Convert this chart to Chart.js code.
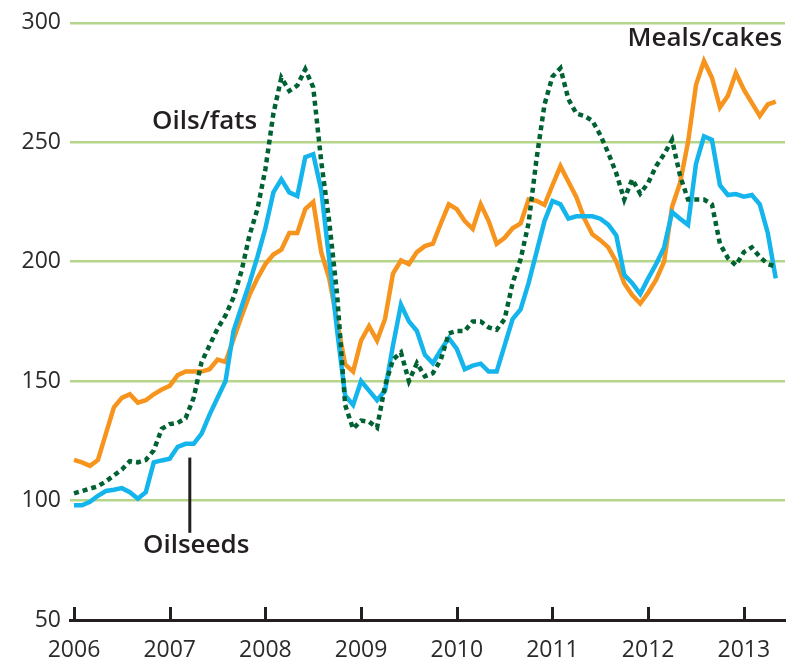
<!DOCTYPE html>
<html>
<head>
<meta charset="utf-8">
<title>Oilseed price indices</title>
<script src="https://cdn.jsdelivr.net/npm/chart.js"></script>
<style>
  html, body { margin: 0; padding: 0; background: #fff; }
  #wrap { width: 789px; height: 659px; }
</style>
</head>
<body>
<div id="wrap"><canvas id="oilChart" width="789" height="659"></canvas></div>
<script>
// monthly index values, Jan 2006 .. May 2013
const startYear = 2006;
const mealsCakes = [
  117, 116, 114.5, 117, 128, 139, 143, 144.5, 141, 142, 144.5, 146.5,
  148, 152.5, 154, 154, 154, 155, 159, 158, 167.5, 177, 186, 193,
  199, 203, 205, 212, 212, 222, 225, 204, 193, 175, 157, 154,
  167, 173, 167, 176, 195, 200.5, 199, 204, 206.5, 207.5, 216, 224,
  222, 217, 213.75, 224, 217, 207.5, 210, 214, 216, 226, 225.5, 223.75,
  232, 240, 233.5, 227, 218, 211.5, 209, 206, 200, 191, 186, 182.5,
  187, 192.5, 200, 223, 233, 250, 274, 284, 277, 264.6, 269.5, 279,
  272, 266.5, 261, 265.8, 267
];
const oilseeds = [
  98, 98, 99.5, 102, 104, 104.5, 105.2, 103.5, 100.8, 103.5, 116, 116.8,
  117.5, 122.5, 123.75, 123.75, 128, 136, 143, 150, 171, 181, 191, 202,
  214, 229, 234.5, 229, 227.5, 243.75, 245, 230, 201, 171, 144, 140,
  150, 146, 142, 146, 165, 182, 175, 171, 161, 157.5, 163, 168,
  163.5, 155, 156.5, 157.3, 154, 154, 165, 176, 180, 191, 204, 217,
  225.4, 224, 218, 219, 219, 219, 218, 215.5, 211, 194.5, 191, 186.5,
  193, 199, 206, 220.8, 218, 215.4, 241, 252.5, 251, 232, 227.9, 228.3,
  227.2, 227.9, 224, 212, 193
];
const oilsFats = [
  103, 104, 105, 106, 108, 110.5, 113, 116.5, 116, 117, 121, 130,
  132, 132.5, 134.5, 143, 158, 165, 172, 177.5, 185, 196, 211, 222,
  238.75, 262, 277, 271.5, 273.75, 280.5, 273, 242, 217, 186, 140, 130,
  133.5, 133, 130.5, 148, 159, 162, 150, 157.5, 152, 153.3, 159, 170,
  171, 171, 175, 175, 172.5, 171.5, 176, 191, 201, 216, 243, 265.8,
  277.5, 281, 268, 262, 261, 259, 253, 245.5, 237, 226, 234.5, 228.5,
  233, 240, 245, 251, 236, 226, 226, 226, 224, 207.5, 201.5, 198.5,
  204, 206, 202, 199, 198
];
const yearTicks = [2006, 2007, 2008, 2009, 2010, 2011, 2012, 2013];
const valueTicks = [50, 100, 150, 200, 250, 300];

// series labels placed in data units
const notes = [
  { text: 'Oils/fats', x: 2006.815, y: 258.75, align: 'left' },
  { text: 'Meals/cakes', x: 2013.4, y: 293.5, align: 'right' },
  { text: 'Oilseeds', x: 2006.72, y: 81.25, align: 'left' }
];
const pointer = { x: 2007.21, from: 118, to: 86.5 };

const ink = '#231f20';

function toPoints(arr) {
  return arr.map((v, i) => ({ x: startYear + i / 12, y: v }));
}

const extras = {
  id: 'extras',
  beforeDatasetsDraw(chart) {
    // upward tick marks on the year axis
    const ctx = chart.ctx, xs = chart.scales.x, area = chart.chartArea;
    ctx.save();
    ctx.strokeStyle = ink;
    ctx.lineWidth = 3;
    yearTicks.forEach(t => {
      const px = Math.round(xs.getPixelForValue(t)) + 0.5;
      ctx.beginPath();
      ctx.moveTo(px, area.bottom);
      ctx.lineTo(px, area.bottom - 13);
      ctx.stroke();
    });
    ctx.restore();
  },
  afterDatasetsDraw(chart) {
    const ctx = chart.ctx, xs = chart.scales.x, ys = chart.scales.y;
    ctx.save();
    ctx.fillStyle = ink;
    ctx.font = '600 26px "Open Sans"';
    ctx.textBaseline = 'middle';
    notes.forEach(n => {
      ctx.textAlign = n.align;
      ctx.fillText(n.text, xs.getPixelForValue(n.x), ys.getPixelForValue(n.y));
    });
    const px = xs.getPixelForValue(pointer.x);
    ctx.strokeStyle = ink;
    ctx.lineWidth = 3;
    ctx.beginPath();
    ctx.moveTo(px, ys.getPixelForValue(pointer.from));
    ctx.lineTo(px, ys.getPixelForValue(pointer.to));
    ctx.stroke();
    ctx.restore();
  }
};

Chart.defaults.font.family = '"Open Sans", sans-serif';

new Chart(document.getElementById('oilChart').getContext('2d'), {
  type: 'line',
  data: {
    datasets: [
      {
        label: 'Oils/fats',
        data: toPoints(oilsFats),
        borderColor: '#006233',
        borderWidth: 4.5,
        borderDash: [5, 4],
        pointRadius: 0,
        tension: 0,
        order: 0
      },
      {
        label: 'Oilseeds',
        data: toPoints(oilseeds),
        borderColor: '#14b4ec',
        borderWidth: 4.5,
        pointRadius: 0,
        tension: 0,
        order: 1
      },
      {
        label: 'Meals/cakes',
        data: toPoints(mealsCakes),
        borderColor: '#f7941d',
        borderWidth: 4.5,
        pointRadius: 0,
        tension: 0,
        order: 2
      }
    ]
  },
  options: {
    responsive: false,
    animation: false,
    layout: { padding: { top: 20, right: 4, left: 0, bottom: 0 } },
    plugins: {
      legend: { display: false },
      tooltip: { enabled: false }
    },
    scales: {
      x: {
        type: 'linear',
        min: 2005.958,
        max: 2013.43,
        afterBuildTicks: s => { s.ticks = yearTicks.map(v => ({ value: v })); },
        afterFit: s => { s.height = 39; },
        grid: { display: true, drawOnChartArea: false, drawTicks: false },
        border: { display: true, color: ink, width: 3 },
        ticks: {
          padding: 17,
          color: '#2b2b2b',
          font: { size: 23 },
          maxRotation: 0,
          callback: v => String(v)
        }
      },
      y: {
        min: 50,
        max: 300,
        afterBuildTicks: s => { s.ticks = valueTicks.map(v => ({ value: v })); },
        afterFit: s => { s.width = 70; },
        grid: {
          drawTicks: false,
          lineWidth: 2.5,
          color: c => (c.tick && c.tick.value === 50) ? 'rgba(0,0,0,0)' : '#b5d58a'
        },
        border: { display: false },
        ticks: {
          padding: 9,
          color: '#2b2b2b',
          font: { size: 23 },
          callback: v => String(v)
        }
      }
    }
  },
  plugins: [extras]
});
</script>
</body>
</html>
